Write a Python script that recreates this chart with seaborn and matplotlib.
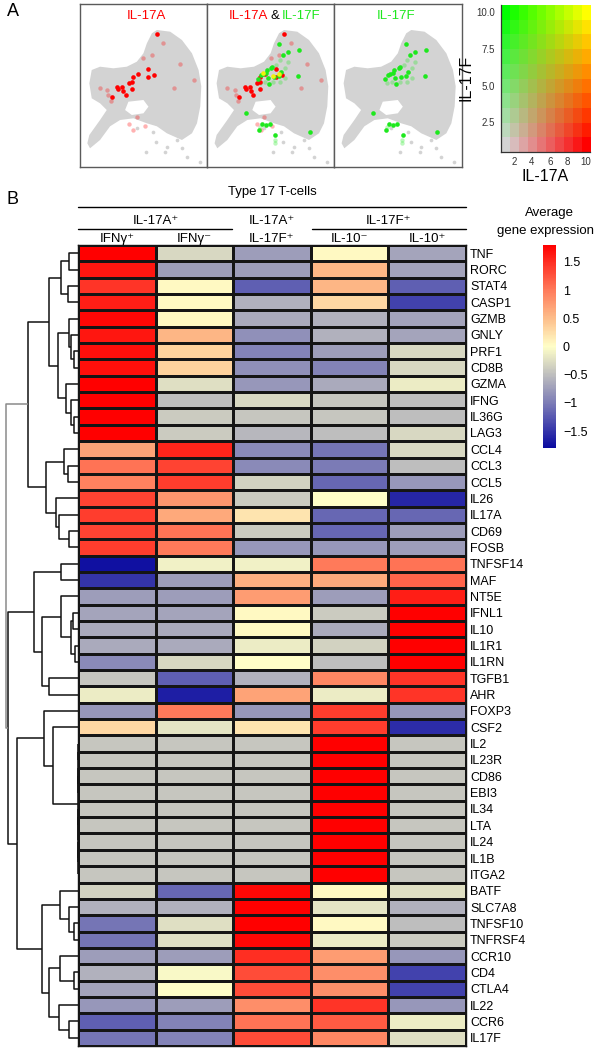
# Type 17 T-cell figure: UMAP feature plots (A) + clustered expression heatmap (B)
import numpy as np
import pandas as pd
import matplotlib
matplotlib.use('Agg')
import matplotlib.pyplot as plt
import seaborn as sns
from matplotlib.colors import LinearSegmentedColormap
from matplotlib.lines import Line2D

sns.set_theme(style='white')
plt.rcParams['font.family'] = ['Liberation Sans', 'DejaVu Sans']
plt.rcParams.update({'text.color': 'black', 'axes.labelcolor': 'black',
                     'xtick.color': 'black', 'ytick.color': 'black'})

W, H = 594, 1050

# ---------------- Panel A data (UMAP, panel pixel units) ----------------
cloud_x = [76.7, 90, 101.7, 111.7, 118.3, 121, 120, 116.7, 111.7, 101.7, 86.7, 76.7, 66.7,
           53.3, 40, 30, 20, 10, 7.3, 9.3, 20, 26.7, 20, 11.7, 9.3, 11.7, 20, 33.3, 46.7,
           56.7, 63.3, 66.7, 71.7]
cloud_y = [25.7, 27.4, 35.7, 49, 65.7, 82, 102, 119, 129, 135.7, 129, 122, 119,
           114, 115.7, 122, 135.7, 144, 139, 130.7, 115.7, 105.7, 99, 94, 79, 65.7, 62.4, 64, 62.4,
           57.4, 49, 39, 29]
hole_x = [48.3, 63.3, 68.3, 63.3, 51.7, 45]
hole_y = [97.4, 95.7, 102.4, 109, 110.7, 105.7]
stray_x = [65.7, 76, 86.7, 96.7, 101.7, 106.7, 119.3, 93.3, 73.3, 56.7, 85]
stray_y = [147.3, 137.3, 142.4, 135.7, 144, 152.4, 157.4, 129, 127.4, 124, 147.4]

il17a_x = [76.7, 68.3, 74.3, 68.3, 57.7, 52.7, 49.3, 52.3, 37.3, 38.3, 42.3, 43.3, 52.3, 46, 31.7]
il17a_y = [29.7, 64.7, 70.7, 72.4, 69.7, 72.4, 79, 77.7, 83, 85, 83, 86.7, 84.7, 90.7, 92.4]
il17a_low_x = [83.3, 71.7, 63.3, 100, 113.3, 93.3, 20, 27.3, 28.3, 30.7, 56.7, 49.3, 53.3, 65]
il17a_low_y = [39, 50.7, 53.4, 59.7, 75.7, 84, 84, 85.7, 90.7, 96.4, 112.4, 119.7, 125.7, 121.7]

il17f_x = [71.7, 75.7, 80.4, 91.4, 65, 64, 60, 58.4, 55.7, 54, 50.7, 60.7, 66.7, 71.7, 73.7,
           90.7, 61.7, 39, 55, 58.4, 62.4, 51.7, 68, 102.4]
il17f_y = [39.7, 50.7, 48, 45.7, 62.4, 64, 65.7, 69, 69.7, 70.7, 74.4, 74, 72.4, 71.7, 67.4,
           71.4, 80, 108.4, 120, 121, 119.7, 125.7, 130.7, 128]
il17f_low_x = [72.4, 69, 77.4, 77.4, 72.4, 65.7, 57.4, 52.4, 80.7, 52.4, 67.4, 67.4]
il17f_low_y = [55.7, 60.7, 64, 74, 77.4, 77.4, 77.4, 79, 57.4, 122.4, 135.7, 139]

both_x = [56, 66, 72]
both_y = [69, 71.7, 69.7]

legend_levels = [1, 2, 3, 4, 5, 6, 7, 8, 9, 10]

# ---------------- Panel B data ----------------
genes = ['TNF', 'RORC', 'STAT4', 'CASP1', 'GZMB', 'GNLY', 'PRF1', 'CD8B', 'GZMA', 'IFNG',
         'IL36G', 'LAG3', 'CCL4', 'CCL3', 'CCL5', 'IL26', 'IL17A', 'CD69', 'FOSB',
         'TNFSF14', 'MAF', 'NT5E', 'IFNL1', 'IL10', 'IL1R1', 'IL1RN', 'TGFB1', 'AHR',
         'FOXP3', 'CSF2', 'IL2', 'IL23R', 'CD86', 'EBI3', 'IL34', 'LTA', 'IL24', 'IL1B',
         'ITGA2', 'BATF', 'SLC7A8', 'TNFSF10', 'TNFRSF4', 'CCR10', 'CD4', 'CTLA4', 'IL22',
         'CCR6', 'IL17F']
groups = ['IFNg+', 'IFNg-', 'IL17A+IL17F+', 'IL10-', 'IL10+']

ifng_pos = [1.8, 1.65, 1.45, 1.6, 1.75, 1.65, 1.7, 1.7, 1.8, 1.8, 1.8, 1.8,
            0.7, 1.05, 0.95, 1.35, 1.4, 1.35, 1.4,
            -1.75, -1.5, -0.75, -0.7, -0.65, -0.65, -0.9, -0.45, -0.15, -0.8, 0.3,
            -0.45, -0.45, -0.45, -0.45, -0.45, -0.45, -0.45, -0.45, -0.45,
            -0.35, -0.6, -1.05, -1.05, -0.75, -0.6, -0.7, -0.8, -1.2, -1.05]
ifng_neg = [-0.3, -0.75, 0.05, 0.05, 0.05, 0.55, 0.35, 0.35, -0.25, -0.5, -0.4, -0.4,
            1.55, 1.35, 1.4, 0.8, 0.65, 1.05, 1.0,
            -0.1, -0.75, -0.75, -0.7, -0.65, -0.65, -0.3, -1.2, -1.65, 1.0, -0.2,
            -0.45, -0.45, -0.45, -0.45, -0.45, -0.45, -0.45, -0.45, -0.45,
            -1.15, -0.6, -0.25, -0.25, -0.75, -0.05, 0.0, -0.75, -0.95, -0.95]
a_f_pos = [-0.75, -0.75, -1.2, -0.6, -0.65, -0.85, -0.95, -0.85, -0.8, -0.3, -0.45, -0.55,
           -0.9, -0.9, -0.35, -0.4, 0.2, -0.4, -0.8,
           -0.1, 0.6, 0.75, 0.05, 0.05, -0.15, 0.0, -0.6, 0.7, -0.8, 0.2,
           -0.45, -0.45, -0.45, -0.45, -0.45, -0.45, -0.45, -0.45, -0.45,
           1.75, 1.8, 1.8, 1.75, 1.5, 1.3, 1.3, 0.85, 1.05, 1.3]
il10_neg = [0.05, 0.55, 0.55, 0.3, -0.6, -0.6, -0.75, -0.95, -0.65, -0.45, -0.45, -0.5,
            -1.05, -1.0, -1.15, 0.0, -1.15, -1.15, -0.8,
            1.0, 0.65, -0.75, -0.4, -0.65, -0.35, -0.5, 0.9, -0.15, 1.4, 1.4,
            1.8, 1.8, 1.8, 1.8, 1.8, 1.8, 1.8, 1.8, 1.8,
            0.05, -0.2, 0.05, -0.15, 0.75, 0.85, 0.85, 1.45, 1.2, 0.9]
il10_pos = [-0.7, -0.7, -1.2, -1.4, -0.7, -0.7, -0.3, -0.3, -0.15, -0.5, -0.5, -0.3,
            -0.3, -0.5, -0.8, -1.6, -1.15, -0.75, -0.75,
            1.05, 1.15, 1.6, 1.8, 1.8, 1.8, 1.8, 1.45, 1.45, -0.8, -1.55,
            -0.45, -0.45, -0.45, -0.45, -0.45, -0.45, -0.45, -0.45, -0.45,
            -0.25, -0.6, -0.5, -0.4, -0.8, -1.4, -1.4, -0.8, -0.15, -0.25]

# row dendrogram: (left, right, height); ints refer to earlier merges
row_merges = [
    ('TNF', 'RORC', 9), ('STAT4', 'CASP1', 10), (0, 1, 17),
    ('PRF1', 'CD8B', 4), ('GNLY', 3, 7), ('GZMB', 4, 9),
    ('IL36G', 'LAG3', 4), ('IFNG', 6, 7), ('GZMA', 7, 12), (5, 8, 20), (2, 9, 29),
    ('CCL3', 'CCL5', 10), ('CCL4', 11, 14), ('CD69', 'FOSB', 9), ('IL17A', 13, 19),
    ('IL26', 14, 22), (12, 15, 32), (10, 16, 50),
    ('TNFSF14', 'MAF', 17), ('IFNL1', 'IL10', 5), ('IL1R1', 'IL1RN', 3), (19, 20, 7),
    ('NT5E', 21, 17), ('TGFB1', 'AHR', 29), (22, 23, 36), (18, 24, 44),
    ('IL2', 'IL23R', 0), ('CD86', 'EBI3', 0), ('IL34', 'LTA', 0), ('IL24', 'IL1B', 0),
    (29, 'ITGA2', 0), (26, 27, 0), (28, 30, 0), (31, 32, 0),
    ('CSF2', 33, 25), ('FOXP3', 34, 34),
    ('TNFSF10', 'TNFRSF4', 3.7), ('SLC7A8', 36, 9.3), ('BATF', 37, 18),
    ('CD4', 'CTLA4', 3.7), ('CCR10', 39, 17.7), ('CCR6', 'IL17F', 8.7), ('IL22', 41, 18.7),
    (40, 42, 28.7), (38, 43, 36), (35, 44, 61), (25, 45, 70), (17, 46, 72),
]

cbar_ticks = [-1.5, -1, -0.5, 0, 0.5, 1, 1.5]
cbar_labels = ['\u22121.5', '\u22121', '\u22120.5', '0', '0.5', '1', '1.5']

# ---------------- figure ----------------
fig = plt.figure(figsize=(W / 100, H / 100), dpi=100)


def px_axes(x0, y0, x1, y1):
    return fig.add_axes([x0 / W, 1 - y1 / H, (x1 - x0) / W, (y1 - y0) / H])


def ftext(x, y, s, **kw):
    fig.text(x / W, 1 - y / H, s, **kw)


def hline(x0, x1, y):
    fig.add_artist(Line2D([x0 / W, x1 / W], [1 - y / H, 1 - y / H], color='black', lw=1))


RED, GREEN, YELLOW = '#ff0000', '#1ee81e', '#f2f20a'

ftext(7, 12, 'A', fontsize=13, va='center')
ftext(7, 200, 'B', fontsize=13, va='center')

umap_edges = [(80, 207.3), (207.3, 334.3), (334.3, 461.7)]
umap_axes = []
for x0, x1 in umap_edges:
    ax = px_axes(x0, 4.3, x1, 166.7)
    ax.fill(cloud_x, cloud_y, color='#d3d3d3', lw=0)
    ax.fill(hole_x, hole_y, color='white', lw=0)
    ax.scatter(stray_x, stray_y, s=7, color='#d3d3d3', lw=0)
    ax.set_xlim(0, 127)
    ax.set_ylim(162.4, 0)
    ax.set_xticks([])
    ax.set_yticks([])
    for sp in ax.spines.values():
        sp.set_color('#5a5a5a')
        sp.set_linewidth(1)
    umap_axes.append(ax)

ax1, ax2, ax3 = umap_axes
ax1.scatter(il17a_low_x, il17a_low_y, s=10, color=RED, alpha=0.3, lw=0)
ax1.scatter(il17a_x, il17a_y, s=11, color=RED, lw=0)
ax1.text(65.8, 11.4, 'IL-17A', color=RED, fontsize=9.5, ha='center', va='center')

ax2.scatter(il17a_low_x, il17a_low_y, s=10, color=RED, alpha=0.3, lw=0)
ax2.scatter(il17f_low_x, il17f_low_y, s=10, color=GREEN, alpha=0.3, lw=0)
ax2.scatter(il17a_x, il17a_y, s=11, color=RED, lw=0)
ax2.scatter(il17f_x, il17f_y, s=11, color=GREEN, lw=0)
ax2.scatter(both_x, both_y, s=11, color=YELLOW, lw=0)
ax2.text(60.4, 11.4, 'IL-17A', color=RED, fontsize=9.5, ha='right', va='center')
ax2.text(67.2, 11.4, '&', color='black', fontsize=9.5, ha='center', va='center')
ax2.text(74.5, 11.4, 'IL-17F', color=GREEN, fontsize=9.5, ha='left', va='center')

ax3.scatter(il17f_low_x, il17f_low_y, s=10, color=GREEN, alpha=0.3, lw=0)
ax3.scatter(il17f_x, il17f_y, s=11, color=GREEN, lw=0)
ax3.text(61.4, 11.4, 'IL-17F', color=GREEN, fontsize=9.5, ha='center', va='center')

# two-colour key
grey = np.array([0.83, 0.83, 0.83])
red = np.array([1.0, 0.0, 0.0])
green = np.array([0.0, 1.0, 0.0])
yellow = np.array([1.0, 1.0, 0.0])
lv = np.array(legend_levels, dtype=float)
fa = (lv - lv.min()) / (lv.max() - lv.min())
key = np.zeros((len(lv), len(lv), 3))
for i, b in enumerate(fa):
    for j, a in enumerate(fa):
        key[i, j] = grey * (1 - a) * (1 - b) + red * a * (1 - b) + green * (1 - a) * b + yellow * a * b
ax_key = px_axes(500.7, 5, 590, 151.7)
ax_key.imshow(key, origin='lower', aspect='auto',
              extent=(lv.min() - 0.5, lv.max() + 0.5, lv.min() - 0.5, lv.max() + 0.5))
ax_key.set_xticks([2, 4, 6, 8, 10])
ax_key.set_yticks([2.5, 5.0, 7.5, 10.0])
ax_key.set_yticklabels(['2.5', '5.0', '7.5', '10.0'])
ax_key.tick_params(labelsize=7, length=2.5, width=0.8, pad=1.5, colors='#333333')
ax_key.set_xlabel('IL-17A', fontsize=11.5, labelpad=1)
ax_key.set_ylabel('IL-17F', fontsize=11.5, labelpad=2)
for s in ['top', 'right']:
    ax_key.spines[s].set_visible(False)
for s in ['left', 'bottom']:
    ax_key.spines[s].set_color('#333333')
    ax_key.spines[s].set_linewidth(0.9)

# ---------------- Panel B ----------------
expr = pd.DataFrame({groups[0]: ifng_pos, groups[1]: ifng_neg, groups[2]: a_f_pos,
                     groups[3]: il10_neg, groups[4]: il10_pos}, index=genes)

cmap = LinearSegmentedColormap.from_list('expr', [
    (0.0, '#0a0aa0'), (0.14, '#5252b0'), (0.25, '#8a8ab8'), (0.36, '#bebebe'),
    (0.5, '#ffffc8'), (0.64, '#fdbd8a'), (0.78, '#ff7a5a'), (1.0, '#ff0000')])

top, bottom = 245, 1046
ax_hm = px_axes(78, top, 466, bottom)
ax_cb = px_axes(543, top, 556, 448)
sns.heatmap(expr, ax=ax_hm, cmap=cmap, vmin=-1.8, vmax=1.8, cbar_ax=ax_cb,
            linewidths=0.9, linecolor='#151515', xticklabels=False, yticklabels=True)
ax_hm.yaxis.tick_right()
ax_hm.set_ylabel('')
ax_hm.tick_params(axis='y', length=0, pad=3, labelsize=9, rotation=0)
for sp in ax_hm.spines.values():
    sp.set_visible(True)
    sp.set_color('#151515')
    sp.set_linewidth(1)

cbar = ax_hm.collections[0].colorbar
cbar.set_ticks(cbar_ticks)
cbar.set_ticklabels(cbar_labels)
cbar.outline.set_visible(False)
ax_cb.tick_params(length=0, labelsize=9, pad=5)

# dendrogram
ax_dn = px_axes(3, top, 78, bottom)
leaf_y = {g: i + 0.5 for i, g in enumerate(genes)}
nodes = []
for k, (a, b, h) in enumerate(row_merges):
    ya, ha = (leaf_y[a], 0.0) if isinstance(a, str) else nodes[a]
    yb, hb = (leaf_y[b], 0.0) if isinstance(b, str) else nodes[b]
    col = '#8a8a8a' if k == len(row_merges) - 1 else '#111111'
    ax_dn.plot([ha, h, h, hb], [ya, ya, yb, yb], color=col, lw=1.1, solid_capstyle='butt')
    nodes.append(((ya + yb) / 2, h))
ax_dn.set_xlim(75, 0)
ax_dn.set_ylim(len(genes), 0)
ax_dn.axis('off')

# column headers (y given as baseline)
col_w = (466 - 78) / 5
cx = [78 + col_w * (i + 0.5) for i in range(5)]
sup = dict(fontsize=9.5, ha='center', va='baseline')
ftext(272, 195, 'Type 17 T-cells', fontsize=9.5, ha='center', va='baseline')
hline(78, 466, 207)
ftext((cx[0] + cx[1]) / 2, 224, 'IL-17A\u207a', **sup)
hline(78, 232, 229)
ftext(cx[2], 224, 'IL-17A\u207a', **sup)
ftext(cx[2], 242, 'IL-17F\u207a', **sup)
ftext((cx[3] + cx[4]) / 2, 224, 'IL-17F\u207a', **sup)
hline(312, 466, 229)
ftext(cx[0], 242, 'IFN\u03b3\u207a', **sup)
ftext(cx[1], 242, 'IFN\u03b3\u207b', **sup)
ftext(cx[3], 242, 'IL-10\u207b', **sup)
ftext(cx[4], 242, 'IL-10\u207a', **sup)
ftext(549, 216, 'Average', fontsize=9.5, ha='center', va='baseline')
ftext(594, 234, 'gene expression', fontsize=9.5, ha='right', va='baseline')

fig.savefig('out.png', dpi=100)
